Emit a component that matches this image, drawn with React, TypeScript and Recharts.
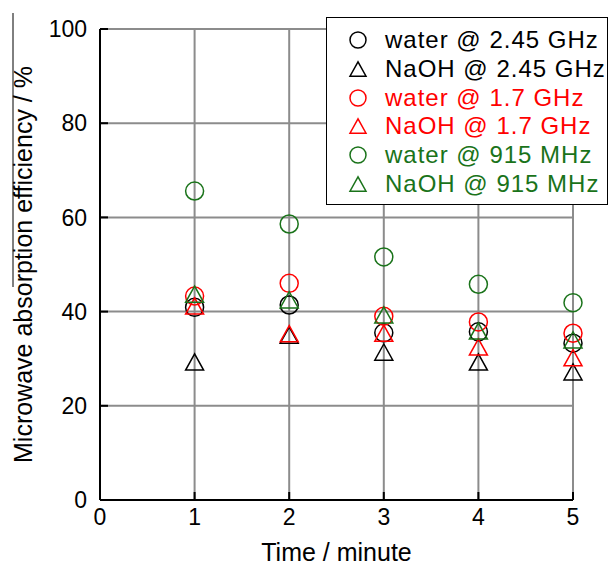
import { ScatterChart, Scatter, XAxis, YAxis, CartesianGrid, Legend, Label } from "recharts";

// time in minutes
const times = [1, 2, 3, 4, 5];

// absorption efficiency (%)
const water245 = [40.9, 41.4, 35.5, 35.7, 33.3];
const naoh245 = [29.3, 35.0, 31.4, 29.3, 27.2];
const water17 = [43.3, 46.0, 39.0, 37.8, 35.4];
const naoh17 = [41.2, 35.3, 35.4, 32.5, 30.2];
const water915 = [65.6, 58.6, 51.6, 45.8, 41.9];
const naoh915 = [43.7, 42.5, 39.3, 35.9, 34.0];

const xTicks = [0, 1, 2, 3, 4, 5];
const yTicks = [0, 20, 40, 60, 80, 100];

const BLACK = "#000000";
const RED = "#ff0000";
const GREEN = "#1a731a";
const FONT = "'Liberation Sans', Arial, sans-serif";

type Kind = "circle" | "triangle";

const series: { name: string; values: number[]; color: string; kind: Kind }[] = [
  { name: "water @ 2.45 GHz", values: water245, color: BLACK, kind: "circle" },
  { name: "NaOH @ 2.45 GHz", values: naoh245, color: BLACK, kind: "triangle" },
  { name: "water @ 1.7 GHz", values: water17, color: RED, kind: "circle" },
  { name: "NaOH @ 1.7 GHz", values: naoh17, color: RED, kind: "triangle" },
  { name: "water @ 915 MHz", values: water915, color: GREEN, kind: "circle" },
  { name: "NaOH @ 915 MHz", values: naoh915, color: GREEN, kind: "triangle" },
];

const toPoints = (values: number[]) => times.map((t, i) => ({ t, v: values[i] }));

const Marker = ({ cx, cy, color, kind, r }: { cx: number; cy: number; color: string; kind: Kind; r: number }) =>
  kind === "circle" ? (
    <circle cx={cx} cy={cy} r={r} fill="none" stroke={color} strokeWidth={1.5} />
  ) : (
    <polygon
      points={`${cx},${cy - r * 0.9} ${cx - r},${cy + r * 0.9} ${cx + r},${cy + r * 0.9}`}
      fill="none"
      stroke={color}
      strokeWidth={1.5}
      strokeLinejoin="miter"
    />
  );

const LegendBox = () => (
  <div
    style={{
      background: "#fff",
      border: "1.5px solid #000",
      width: 282,
      height: 188,
      boxSizing: "border-box",
      paddingTop: 8,
      fontFamily: FONT,
    }}
  >
    {series.map((s) => (
      <div key={s.name} style={{ display: "flex", alignItems: "center", height: 28.7 }}>
        <svg width={22} height={22} style={{ marginLeft: 20, overflow: "visible" }}>
          <Marker cx={11} cy={11} color={s.color} kind={s.kind} r={8} />
        </svg>
        <span style={{ marginLeft: 16, fontSize: 24, letterSpacing: 1, color: s.color, whiteSpace: "nowrap" }}>{s.name}</span>
      </div>
    ))}
  </div>
);

const tickStyle = { fontSize: 23, fill: "#000", fontFamily: FONT };
const frame = { stroke: "#000", strokeWidth: 2 };

const App = () => (
  <div style={{ position: "absolute", left: 0, top: 0, background: "#fff" }}>
    <ScatterChart width={616} height={566} margin={{ top: 29, right: 43, left: 0, bottom: 0 }}>
      <CartesianGrid stroke="#8c8c8c" strokeWidth={2} />
      <XAxis
        type="number"
        dataKey="t"
        domain={[0, 5]}
        ticks={xTicks}
        height={66}
        tick={tickStyle}
        tickSize={-8}
        tickMargin={17}
        tickLine={frame}
        axisLine={frame}
      >
        <Label
          content={(p: any) => (
            <text
              x={p.viewBox.x + p.viewBox.width / 2}
              y={p.viewBox.y + 61}
              textAnchor="middle"
              fontSize={25}
              fontFamily={FONT}
              fill="#000"
            >
              Time / minute
            </text>
          )}
        />
      </XAxis>
      <YAxis
        type="number"
        dataKey="v"
        domain={[0, 100]}
        ticks={yTicks}
        width={100}
        tick={tickStyle}
        tickSize={-8}
        tickMargin={21}
        tickLine={frame}
        axisLine={frame}
      >
        <Label
          content={(p: any) => {
            const x = p.viewBox.x + 32;
            const y = p.viewBox.y + p.viewBox.height / 2;
            return (
              <text x={x} y={y} transform={`rotate(-90 ${x} ${y})`} textAnchor="middle" fontSize={25} fontFamily={FONT} fill="#000">
                Microwave absorption efficiency / %
              </text>
            );
          }}
        />
      </YAxis>
      <XAxis
        xAxisId="top"
        orientation="top"
        type="number"
        domain={[0, 5]}
        ticks={xTicks}
        height={0}
        tick={false}
        tickSize={-8}
        tickLine={frame}
        axisLine={frame}
      />
      <YAxis
        yAxisId="right"
        orientation="right"
        type="number"
        domain={[0, 100]}
        ticks={yTicks}
        width={0}
        tick={false}
        tickSize={-8}
        tickLine={frame}
        axisLine={frame}
      />
      {series.map((s) => (
        <Scatter
          key={s.name}
          name={s.name}
          data={toPoints(s.values)}
          isAnimationActive={false}
          shape={(p: any) => <Marker cx={p.cx} cy={p.cy} color={s.color} kind={s.kind} r={9} />}
        />
      ))}
      <Legend
        layout="vertical"
        align="center"
        verticalAlign="middle"
        content={() => <LegendBox />}
        wrapperStyle={{ left: 326, top: 17, width: 282 }}
      />
      <line x1={13} y1={13} x2={13} y2={287} stroke="#000" strokeWidth={1} />
    </ScatterChart>
  </div>
);

export default App;
